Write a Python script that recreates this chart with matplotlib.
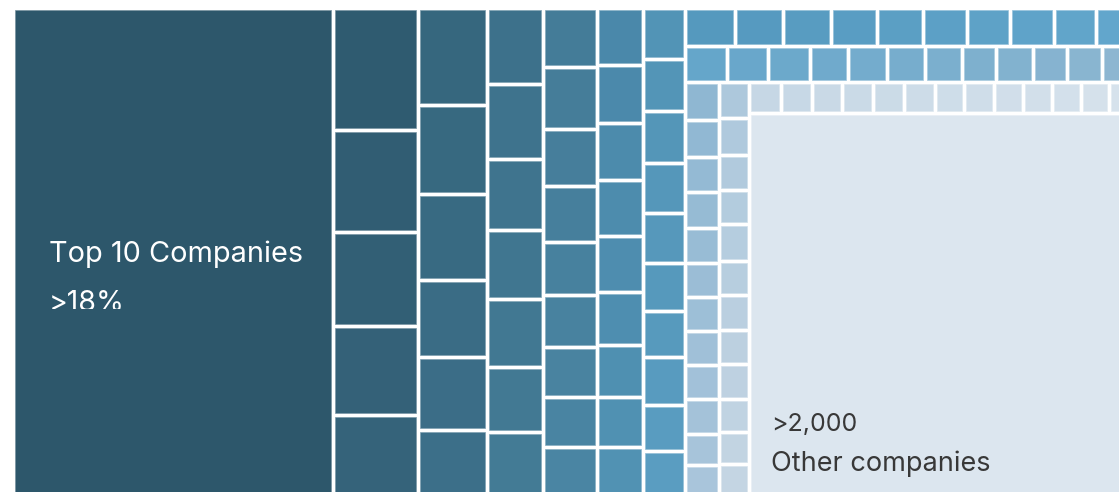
import numpy as np
import matplotlib
matplotlib.use("Agg")
import matplotlib.pyplot as plt
from matplotlib.patches import Rectangle
from matplotlib.colors import to_rgb
from matplotlib.transforms import Bbox

# ---- labels ---------------------------------------------------------------
top10_label = "Top 10 Companies"
top10_share = ">18%"
others_count = ">2,000"
others_label = "Other companies"

# ---- tile sizes (px) ------------------------------------------------------
top10_width = 316

# vertical columns of the next-largest companies; the last tile of each
# column runs to the bottom edge
column_widths = [81, 65, 52, 50, 42, 38]
column_tiles = [
    [118, 98, 90, 85],
    [93, 85, 82, 73, 69],
    [72, 71, 67, 65, 64, 61],
    [55, 58, 53, 52, 49, 48, 46, 46],
    [53, 54, 53, 52, 52, 49, 48, 46],
    [47, 48, 48, 46, 46, 44, 42, 44, 42],
]

# horizontal rows in the right-hand block; last tile runs to the right edge
row_heights = [34, 32, 27]
row1_widths = [46, 44, 44, 42, 42, 40, 39, 40, 38]
row2_widths = [38, 37, 38, 34, 35, 34, 33, 30, 33, 30, 31]
row3_widths = [28, 27, 26, 27, 27, 27, 25, 26, 25, 25, 25, 24]

# two narrow stacks left of the "other companies" block
stack_widths = [30, 26]
stackA_heights = [34, 33, 31, 32, 31, 30, 30, 30, 30, 31, 27]
stackB_heights = [32, 33, 31, 30, 33, 30, 31, 30, 31, 29, 28]

# ---- colours --------------------------------------------------------------
top10_color = "#2D576B"
column_colors = [
    ("#2F5B70", "#35637A"),
    ("#36677E", "#3C6F89"),
    ("#3D718B", "#437B95"),
    ("#447C98", "#4A85A3"),
    ("#4A88AA", "#5192B3"),
    ("#5294B6", "#5A9DC1"),
]
row_colors = [("#5599BE", "#62A6CC"), ("#65A6CA", "#8DB6D1"), ("#C6D7E5", "#D6E2EC")]
stack_colors = [("#8FB7D2", "#A9C5DB"), ("#ADC8DC", "#C4D5E3")]
others_color = "#DCE6EF"

W, H = 1119, 492
GAP = 4
X0, Y0 = 15, 10
FAR = 1140  # beyond the visible edges


def ramp(c0, c1, n):
    a, b = np.array(to_rgb(c0)), np.array(to_rgb(c1))
    if n == 1:
        return [a]
    return [a + (b - a) * t for t in np.linspace(0, 1, n)]


fig = plt.figure(figsize=(W / 100, H / 100), dpi=100)
ax = fig.add_axes([0, 0, 1, 1])
ax.set_xlim(0, W)
ax.set_ylim(H, 0)
ax.axis("off")


def tile(x, y, w, h, color):
    c = np.array(to_rgb(color))
    edge = c + (1 - c) * 0.35
    ax.add_patch(Rectangle((x + 0.3, y + 0.3), w - 0.6, h - 0.6, facecolor=c,
                           edgecolor=edge, linewidth=0.5, zorder=2))


# leading block
tile(X0, Y0, top10_width, FAR - Y0, top10_color)

# columns
x = X0 + top10_width + GAP
for w, heights, (c0, c1) in zip(column_widths, column_tiles, column_colors):
    cols = ramp(c0, c1, len(heights) + 1)
    y = Y0
    for h, c in zip(heights + [FAR - Y0], cols):
        tile(x, y, w, h, c)
        y += h + GAP
    x += w + GAP

right_x = x

# rows across the top of the right block
y = Y0
row_x_start = [right_x, right_x,
               right_x + sum(stack_widths) + GAP * len(stack_widths)]
stack_y = Y0
for i, (widths, rh, (c0, c1), xs) in enumerate(
        zip([row1_widths, row2_widths, row3_widths], row_heights, row_colors,
            row_x_start)):
    cols = ramp(c0, c1, len(widths) + 1)
    xx = xs
    for w, c in zip(widths + [FAR - xs], cols):
        tile(xx, y, w, rh, c)
        xx += w + GAP
    y += rh + GAP
    if i == 1:
        stack_y = y

# narrow stacks
xx = right_x
for w, heights, (c0, c1) in zip(stack_widths, [stackA_heights, stackB_heights],
                                stack_colors):
    cols = ramp(c0, c1, len(heights) + 1)
    yy = stack_y
    for h, c in zip(heights + [FAR], cols):
        tile(xx, yy, w, h, c)
        yy += h + GAP
    xx += w + GAP

# "other companies" block
others_x = row_x_start[2]
others_y = stack_y + row_heights[2] + GAP
tile(others_x, others_y, FAR, FAR, others_color)

# ---- text -----------------------------------------------------------------
font = "Inter"
ax.text(X0 + 34, 262, top10_label, color="white", fontsize=20.8,
        family=font, va="baseline", ha="left", zorder=3)
share = ax.text(X0 + 34, 311, top10_share, color="white", fontsize=20.5,
                family=font, va="baseline", ha="left", zorder=3)
# the share label is cut off just above its baseline
(px0, py0), (px1, py1) = ax.transData.transform([(X0, Y0), (X0 + top10_width, 308.5)])
share.set_clip_box(Bbox.from_extents(min(px0, px1), min(py0, py1),
                                     max(px0, px1), max(py0, py1)))
share.set_clip_on(True)

ax.text(others_x + 20, 431, others_count, color="#383838", fontsize=18,
        family=font, va="baseline", ha="left", zorder=3)
ax.text(others_x + 20, 471, others_label, color="#383838", fontsize=19.5,
        family=font, va="baseline", ha="left", zorder=3)

fig.savefig("out.png", dpi=100, facecolor="white")
